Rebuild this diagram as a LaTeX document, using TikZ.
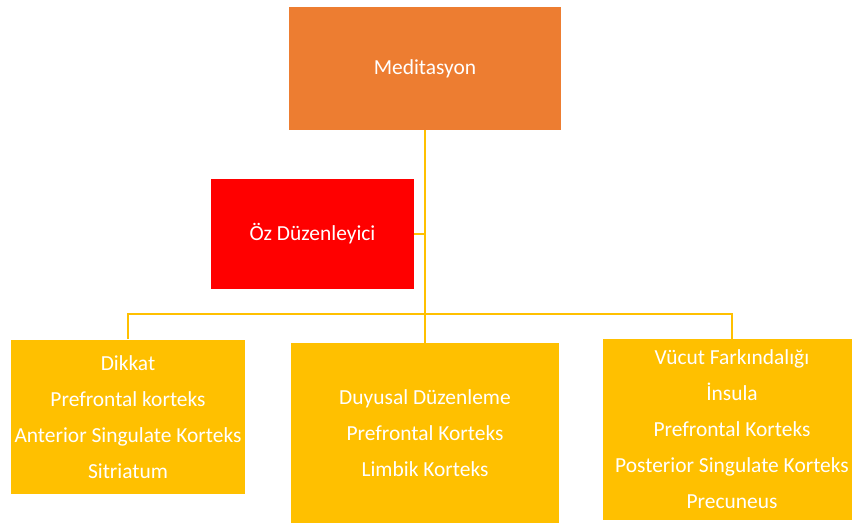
\documentclass[tikz,border=0pt]{standalone}
\usepackage{fontspec}
\setmainfont{Carlito}
\definecolor{medorange}{HTML}{ED7D31}
\definecolor{ozred}{HTML}{FF0000}
\definecolor{areayellow}{HTML}{FFC000}
\begin{document}
\begin{tikzpicture}[x=0.02cm, y=-0.02cm,
	box/.style={rectangle, inner sep=0pt, align=center, text=white,
		font=\fontsize{12.2}{20.5}\selectfont},
	area/.style={box, fill=areayellow},
	link/.style={draw=areayellow, line width=1.1pt}]
%		\draw[help lines] (0,0) grid (852,522);
		\useasboundingbox (0,0) rectangle (852,522);
		\node[box, fill=medorange, minimum width=5.44cm, minimum height=2.46cm] (med) at (425,68.5) {Meditasyon};
		\node[box, fill=ozred, minimum width=4.06cm, minimum height=2.2cm] (oz) at (312.5,234) {Öz Düzenleyici};
		\node[area, minimum width=4.68cm, minimum height=3.1cm] (dikkat) at (128,417) {Dikkat\\Prefrontal korteks\\Anterior Singulate Korteks\\Sitriatum};
		\node[area, minimum width=5.36cm, minimum height=3.6cm] (duyusal) at (425,433) {Duyusal Düzenleme\\Prefrontal Korteks\\Limbik Korteks};
		\node[area, minimum width=5.16cm, minimum height=3.62cm] (vucut) at (732,429.5) {Vücut Farkındalığı\\İnsula\\Prefrontal Korteks\\Posterior Singulate Korteks\\Precuneus};
		\coordinate (bar) at (425,314);
		\draw[link] (med.south) -- (duyusal.north);
		\draw[link] (oz.east) -- (oz.east -| med.south);
		\draw[link] (dikkat.north) |- (bar) -| (vucut.north);
	\end{tikzpicture}
\end{document}
